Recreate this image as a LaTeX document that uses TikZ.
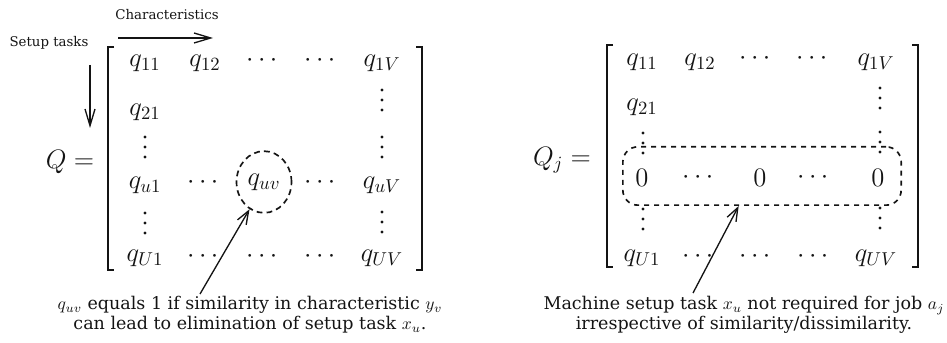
\documentclass[tikz,border=0pt]{standalone}
\usepackage{fix-cm}
\usepackage{fontspec}
\usepackage{amsmath, amssymb}
\usepackage{xcolor}
\usepackage{tikz}
\usetikzlibrary{
  shapes.geometric,
  arrows.meta,
  positioning
}
\newfontfamily\capfont{DejaVu Serif}
\definecolor{InkBlack}{RGB}{20, 20, 20}
\tikzset{
    entry/.style={font=\fontsize{16}{19}\selectfont, text=InkBlack, inner sep=1pt},
    axislabel/.style={font=\capfont\fontsize{8}{9.5}\selectfont, text=InkBlack, inner sep=1pt},
    caption/.style={font=\capfont\fontsize{10.5}{12}\selectfont, text=InkBlack, align=center, inner sep=1pt},
    bracket/.style={draw=InkBlack, line width=1pt},
    pointer/.style={draw=InkBlack, line width=0.8pt, -{Straight Barb[length=8pt, width=6pt]}},
    heading/.style={draw=InkBlack, line width=0.8pt, -{Straight Barb[length=10pt, width=6pt]}},
    ring/.style={ellipse, draw=InkBlack, line width=1pt, dash pattern=on 3.5pt off 2.5pt,
        minimum width=33pt, minimum height=37pt, inner sep=0pt},
    zerobox/.style={rectangle, draw=InkBlack, line width=1pt, dash pattern=on 3pt off 3pt,
        rounded corners=9pt, minimum width=167pt, minimum height=35pt}
}

\begin{document}
\begin{tikzpicture}[x=0.6pt, y=-0.6pt]
    \useasboundingbox (0,0) rectangle (947,343);

    \node[axislabel] (chars) at (167,15) {Characteristics};
    \node[axislabel] (tasks) at (49,43) {Setup tasks};
    \coordinate (charsL) at (118,38);
    \coordinate (charsR) at (213,38);
    \coordinate (tasksT) at (90,65);
    \coordinate (tasksB) at (90,128);
    \draw[heading] (charsL) -- (charsR);
    \draw[heading] (tasksT) -- (tasksB);

    \node[entry] (Qeq) at (70,162) {$Q =$};
    \draw[bracket] (114,47) -- (108,47) -- (108,270) -- (114,270);
    \draw[bracket] (416,47) -- (422,47) -- (422,270) -- (416,270);

    \node[entry] (a11) at (145,63) {$q_{11}$};
    \node[entry] (a12) at (205,63) {$q_{12}$};
    \node[entry] (a13) at (264,61) {$\cdots$};
    \node[entry] (a14) at (322,61) {$\cdots$};
    \node[entry] (a15) at (382,63) {$q_{1V}$};
    \node[entry] (a21) at (145,112) {$q_{21}$};
    \node[entry] (a41) at (145,185) {$q_{u1}$};
    \node[entry] (a42) at (205,183) {$\cdots$};
    \node[entry, ring] (quv) at (264,182) {$q_{uv}$};
    \node[entry] (a44) at (322,183) {$\cdots$};
    \node[entry] (a45) at (382,185) {$q_{uV}$};
    \node[entry] (a61) at (145,258) {$q_{U1}$};
    \node[entry] (a62) at (205,257) {$\cdots$};
    \node[entry] (a63) at (264,257) {$\cdots$};
    \node[entry] (a64) at (322,257) {$\cdots$};
    \node[entry] (a65) at (382,258) {$q_{UV}$};
    \foreach \x/\y in {382/100, 145/147, 382/147, 145/223, 382/222}
        \foreach \d in {-10,0,10}
            \fill[InkBlack] (\x,\y+\d) circle[radius=0.95pt];

    \coordinate (tailL) at (200,294);
    \draw[pointer] (tailL) -- (quv.242);
    \node[caption] (capL) at (250,315) {$q_{uv}$ equals 1 if similarity in characteristic $y_v$\\
        can lead to elimination of setup task $x_u$.};

    \node[entry] (Qjeq) at (562,160) {$Q_j =$};
    \draw[bracket] (613,45) -- (607,45) -- (607,267) -- (613,267);
    \draw[bracket] (912,45) -- (918,45) -- (918,267) -- (912,267);

    \node[entry] (b11) at (642,62) {$q_{11}$};
    \node[entry] (b12) at (700,62) {$q_{12}$};
    \node[entry] (b13) at (757,59) {$\cdots$};
    \node[entry] (b14) at (814,59) {$\cdots$};
    \node[entry] (b15) at (876,62) {$q_{1V}$};
    \node[entry] (b21) at (642,107) {$q_{21}$};
    \node[entry] (b41) at (642,178) {$0$};
    \node[entry] (b42) at (700,178) {$\cdots$};
    \node[entry] (b43) at (760,178) {$0$};
    \node[entry] (b44) at (815,178) {$\cdots$};
    \node[entry] (b45) at (878,178) {$0$};
    \node[zerobox] (zrow) at (762,176) {};
    \node[entry] (b61) at (642,258) {$q_{U1}$};
    \node[entry] (b62) at (700,257) {$\cdots$};
    \node[entry] (b63) at (757,257) {$\cdots$};
    \node[entry] (b64) at (815,257) {$\cdots$};
    \node[entry] (b65) at (876,258) {$q_{UV}$};
    \foreach \x/\y in {880/98, 643/143, 880/142, 643/219, 880/218}
        \foreach \d in {-10,0,10}
            \fill[InkBlack] (\x,\y+\d) circle[radius=0.95pt];

    \coordinate (tailR) at (693,293);
    \draw[pointer] (tailR) -- ([xshift=-14pt]zrow.south);
    \node[caption] (capR) at (744,315) {Machine setup task $x_u$ not required for job $a_j$\\
        irrespective of similarity/dissimilarity.};
\end{tikzpicture}
\end{document}
